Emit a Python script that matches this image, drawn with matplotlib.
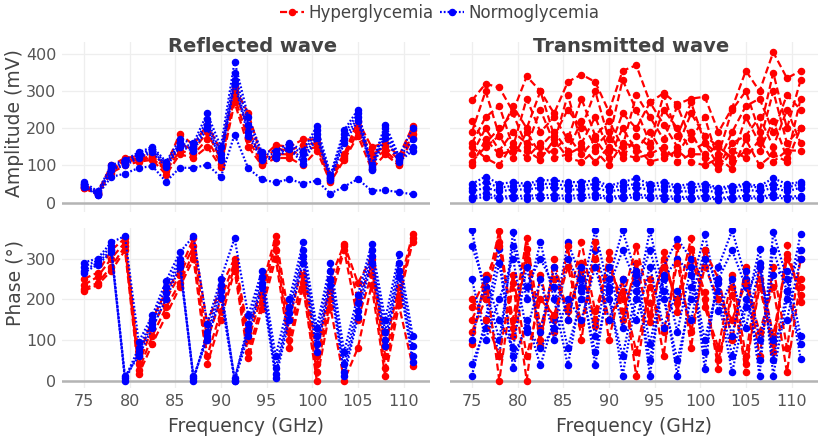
import matplotlib.pyplot as plt
from matplotlib.lines import Line2D

# frecuencias (GHz)
freq = [75, 76.5, 78, 79.5, 81, 82.5, 84, 85.5, 87, 88.5, 90, 91.5, 93,
        94.5, 96, 97.5, 99, 100.5, 102, 103.5, 105, 106.5, 108, 109.5, 111]

# amplitud onda reflejada (mV)
ref_amp_hyper = [
    [48, 28, 100, 120, 125, 130, 100, 185, 155, 210, 140, 310, 240, 120, 155, 150, 170, 170, 75, 130, 220, 150, 160, 125, 205],
    [42, 25, 90, 115, 118, 125, 90, 160, 140, 190, 115, 300, 200, 110, 145, 140, 155, 160, 65, 125, 205, 130, 150, 115, 195],
    [40, 24, 85, 110, 115, 120, 85, 140, 130, 170, 105, 285, 170, 105, 130, 130, 140, 150, 60, 120, 190, 115, 140, 105, 185],
    [38, 22, 80, 100, 110, 115, 75, 130, 120, 150, 95, 270, 150, 100, 120, 120, 100, 140, 55, 115, 180, 90, 130, 100, 175],
]
ref_amp_normo = [
    [55, 30, 100, 115, 135, 150, 110, 170, 160, 240, 150, 380, 230, 135, 140, 160, 140, 205, 75, 195, 250, 100, 210, 125, 200],
    [50, 25, 95, 110, 130, 145, 105, 160, 150, 225, 130, 350, 210, 130, 130, 155, 130, 195, 70, 185, 240, 95, 200, 120, 170],
    [45, 22, 90, 105, 125, 140, 100, 155, 145, 210, 120, 330, 190, 120, 125, 150, 115, 185, 65, 170, 230, 90, 185, 115, 150],
    [42, 20, 88, 100, 120, 135, 95, 150, 140, 200, 115, 320, 180, 115, 120, 145, 105, 175, 60, 160, 220, 88, 175, 110, 140],
    [51, 20, 69, 78, 93, 98, 56, 94, 93, 102, 69, 183, 92, 62, 54, 63, 51, 59, 24, 43, 63, 32, 33, 28, 22],
]

# amplitud onda transmitida (mV)
tra_amp_hyper = [
    [275, 320, 310, 245, 340, 300, 240, 325, 345, 325, 245, 355, 370, 270, 295, 265, 280, 285, 190, 255, 355, 300, 405, 335, 355],
    [190, 300, 180, 260, 200, 300, 180, 250, 200, 300, 170, 330, 250, 160, 290, 180, 270, 160, 130, 250, 300, 190, 350, 200, 330],
    [160, 230, 260, 150, 280, 190, 230, 170, 280, 180, 220, 150, 290, 230, 170, 260, 170, 230, 110, 190, 260, 280, 190, 290, 250],
    [220, 160, 200, 240, 150, 250, 160, 290, 160, 230, 140, 240, 200, 270, 210, 150, 240, 180, 150, 120, 230, 160, 300, 160, 200],
    [130, 200, 140, 190, 160, 150, 190, 140, 220, 150, 190, 120, 180, 150, 250, 200, 140, 160, 100, 160, 180, 230, 150, 250, 160],
    [110, 150, 180, 120, 190, 130, 140, 180, 130, 170, 120, 200, 140, 190, 130, 130, 190, 120, 160, 110, 140, 140, 220, 120, 280],
    [150, 120, 100, 160, 120, 160, 120, 130, 150, 110, 150, 130, 120, 130, 150, 110, 130, 130, 90, 140, 120, 170, 110, 140, 140],
    [100, 170, 130, 140, 140, 115, 170, 120, 110, 140, 100, 160, 150, 110, 120, 140, 110, 100, 120, 90, 170, 100, 130, 110, 200],
]
tra_amp_normo = [
    [50, 70, 50, 55, 50, 60, 60, 55, 55, 60, 45, 55, 65, 50, 55, 45, 50, 50, 40, 45, 50, 45, 65, 50, 55],
    [40, 55, 40, 45, 45, 50, 50, 45, 45, 50, 40, 45, 50, 45, 45, 40, 40, 45, 35, 40, 45, 40, 50, 40, 50],
    [30, 40, 30, 35, 35, 40, 40, 35, 35, 40, 30, 35, 40, 35, 35, 30, 30, 35, 25, 30, 35, 30, 40, 30, 40],
    [15, 25, 15, 18, 18, 20, 20, 18, 20, 22, 15, 18, 22, 18, 18, 15, 15, 18, 12, 15, 18, 15, 22, 15, 18],
    [10, 15, 10, 12, 10, 12, 12, 10, 12, 14, 10, 12, 14, 12, 10, 10, 10, 12, 8, 10, 12, 10, 14, 10, 12],
]

# fase onda reflejada (grados)
ref_ph_hyper = [
    [250, 265, 320, 350, 60, 150, 220, 270, 350, 140, 230, 300, 120, 230, 355, 150, 290, 60, 250, 335, 240, 300, 85, 230, 360],
    [235, 255, 300, 340, 40, 130, 200, 260, 330, 100, 200, 290, 100, 210, 340, 120, 260, 40, 220, 330, 200, 280, 60, 210, 350],
    [225, 240, 280, 330, 25, 110, 180, 240, 315, 60, 170, 280, 70, 190, 320, 100, 240, 20, 200, 320, 150, 260, 30, 200, 340],
    [220, 235, 270, 320, 15, 90, 160, 230, 300, 40, 150, 270, 55, 175, 300, 80, 230, 0, 180, 0, 80, 235, 10, 185, 35],
]
ref_ph_normo = [
    [290, 300, 340, 355, 95, 160, 245, 315, 355, 140, 250, 350, 160, 270, 60, 200, 340, 130, 290, 70, 210, 335, 150, 310, 110],
    [280, 295, 330, 5, 80, 150, 230, 300, 0, 120, 235, 0, 140, 255, 30, 180, 320, 110, 270, 40, 190, 320, 120, 290, 85],
    [270, 290, 320, 0, 70, 140, 215, 290, 5, 110, 220, 5, 125, 240, 15, 165, 305, 90, 250, 20, 170, 305, 100, 270, 60],
    [265, 285, 315, 10, 60, 130, 200, 280, 10, 100, 205, 0, 110, 230, 5, 150, 290, 70, 235, 10, 155, 290, 85, 255, 45],
]

# fase onda transmitida (grados)
tra_ph_hyper = [
    [150, 220, 368, 110, 324, 86, 300, 150, 290, 135, 315, 150, 290, 143, 315, 168, 324, 217, 29, 230, 20, 250, 70, 332, 193],
    [120, 200, 340, 130, 300, 100, 280, 170, 270, 150, 300, 170, 270, 160, 300, 190, 300, 200, 50, 210, 40, 230, 90, 310, 210],
    [180, 250, 330, 150, 350, 130, 250, 180, 340, 170, 280, 200, 330, 190, 280, 200, 350, 180, 80, 260, 60, 280, 110, 300, 230],
    [90, 260, 0, 240, 0, 260, 120, 330, 100, 340, 100, 250, 10, 250, 60, 330, 80, 320, 250, 100, 280, 60, 280, 80, 300],
    [200, 150, 60, 260, 60, 200, 160, 280, 140, 300, 150, 220, 70, 230, 120, 290, 120, 280, 200, 150, 240, 120, 230, 20, 250],
]
tra_ph_normo = [
    [369, 200, 60, 365, 200, 340, 200, 37, 220, 369, 220, 12, 200, 369, 220, 12, 230, 360, 200, 20, 180, 324, 12, 200, 360],
    [12, 150, 324, 30, 150, 37, 150, 340, 250, 37, 250, 369, 260, 12, 280, 348, 300, 29, 280, 369, 250, 12, 365, 250, 53],
    [330, 230, 100, 330, 230, 300, 230, 80, 200, 320, 200, 60, 220, 320, 200, 50, 200, 320, 220, 60, 200, 290, 50, 220, 320],
    [40, 130, 290, 60, 130, 80, 130, 300, 230, 70, 230, 320, 240, 50, 250, 300, 260, 70, 250, 320, 230, 50, 320, 220, 90],
    [250, 100, 200, 300, 120, 250, 100, 200, 150, 280, 150, 250, 150, 280, 130, 220, 150, 300, 170, 250, 130, 280, 100, 150, 300],
    [100, 250, 150, 80, 280, 120, 280, 150, 280, 110, 280, 130, 270, 90, 260, 120, 280, 100, 240, 110, 270, 100, 260, 270, 110],
]

ROJO = '#ff0000'
AZUL = '#0000ff'
GRIS = '#444444'
estilo_hyper = dict(color=ROJO, ls=(0, (3.2, 1.6)), lw=1.6, marker='o', ms=4.4)
estilo_normo = dict(color=AZUL, ls=(0, (0.8, 0.9)), lw=1.6, marker='o', ms=4.4)

W, H = 818, 441
fig = plt.figure(figsize=(W / 100, H / 100), dpi=100)


def ejes(x0, y0, x1, y1):
    return fig.add_axes([x0 / W, 1 - y1 / H, (x1 - x0) / W, (y1 - y0) / H])


ax_ra = ejes(62, 42, 430, 212)
ax_ta = ejes(450, 42, 818, 212)
ax_rp = ejes(62, 228, 430, 388)
ax_tp = ejes(450, 228, 818, 388)

# (eje, hiper, normo, intercalar trazas)
paneles = [
    (ax_ra, ref_amp_hyper, ref_amp_normo, False),
    (ax_ta, tra_amp_hyper, tra_amp_normo, False),
    (ax_rp, ref_ph_hyper, ref_ph_normo, False),
    (ax_tp, tra_ph_hyper, tra_ph_normo, True),
]

for ax, hyper, normo, intercalar in paneles:
    if intercalar:
        for i in range(max(len(hyper), len(normo))):
            if i < len(hyper):
                ax.plot(freq, hyper[i], zorder=3, **estilo_hyper)
            if i < len(normo):
                ax.plot(freq, normo[i], zorder=3, **estilo_normo)
    else:
        for serie in hyper:
            ax.plot(freq, serie, zorder=3, **estilo_hyper)
        for serie in normo:
            ax.plot(freq, serie, zorder=3, **estilo_normo)
    ax.axhline(0, color='#b4b4b4', lw=1.8, zorder=2)
    ax.set_xlim(72.6, 112.9)
    ax.set_xticks([75, 80, 85, 90, 95, 100, 105, 110])
    ax.grid(True, color='#eeeeee', lw=0.9, zorder=0)
    for s in ax.spines.values():
        s.set_visible(False)
    ax.tick_params(length=0, labelsize=11.5, colors='#555555', pad=4)

for ax in (ax_ra, ax_ta):
    ax.set_ylim(-25.6, 432.6)
    ax.set_yticks([0, 100, 200, 300, 400])
    ax.tick_params(labelbottom=False)
for ax in (ax_rp, ax_tp):
    ax.set_ylim(-18.4, 375)
    ax.set_yticks([0, 100, 200, 300])
    ax.set_xlabel('Frequency (GHz)', fontsize=13.5, color=GRIS, labelpad=6)
for ax in (ax_ta, ax_tp):
    ax.tick_params(labelleft=False)

fig.text(15 / W, 1 - 123 / H, 'Amplitude (mV)', rotation=90, ha='center', va='center',
         fontsize=13.5, color=GRIS)
fig.text(15 / W, 1 - 283 / H, 'Phase (°)', rotation=90, ha='center', va='center',
         fontsize=13.5, color=GRIS)
fig.text(253 / W, 1 - 47 / H, 'Reflected wave', ha='center', va='center',
         fontsize=14, fontweight='bold', color=GRIS)
fig.text(631 / W, 1 - 47 / H, 'Transmitted wave', ha='center', va='center',
         fontsize=14, fontweight='bold', color=GRIS)

manejadores = [Line2D([], [], **estilo_hyper), Line2D([], [], **estilo_normo)]
fig.legend(manejadores, ['Hyperglycemia', 'Normoglycemia'], loc='center',
           bbox_to_anchor=(440 / W, 1 - 13 / H), ncol=2, frameon=False,
           handlelength=1.4, handletextpad=0.3, columnspacing=0.4,
           prop={'family': ['Liberation Sans Narrow', 'DejaVu Sans'], 'size': 12},
           labelcolor=GRIS)

fig.savefig('out.png', dpi=100)
